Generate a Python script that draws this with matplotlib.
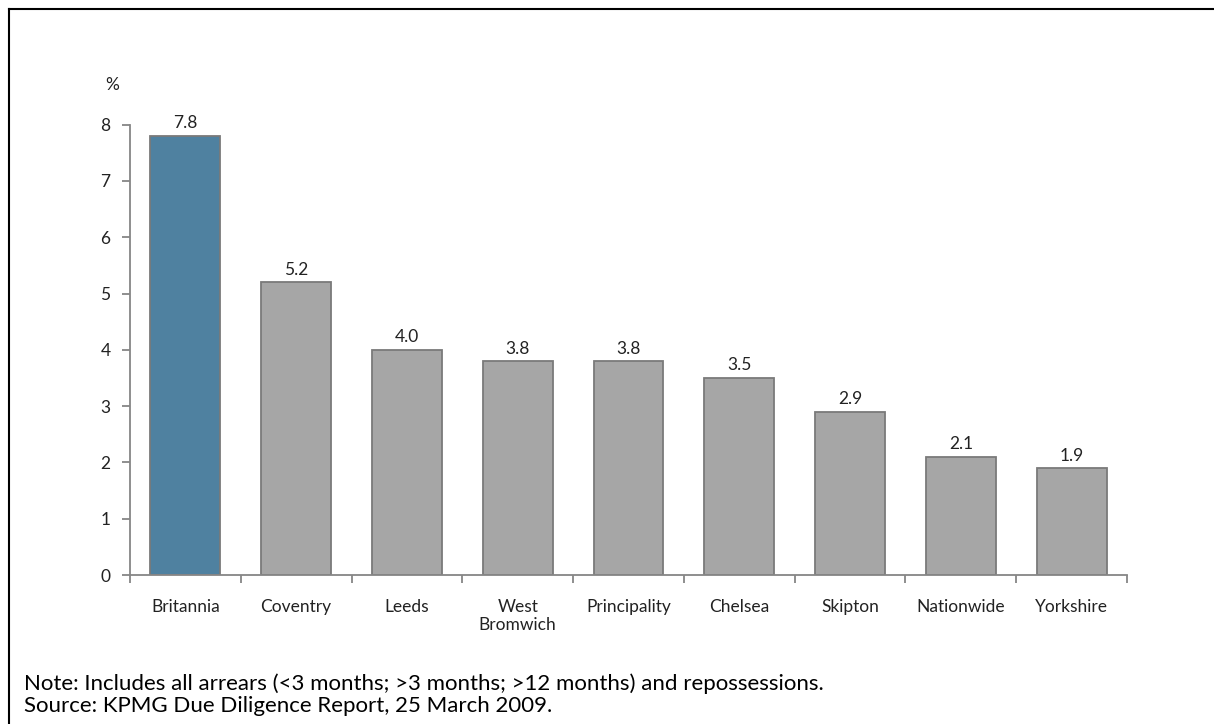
import matplotlib
matplotlib.use('Agg')
import matplotlib.pyplot as plt
from matplotlib.lines import Line2D
import numpy as np

plt.rcParams['font.family'] = ['Lato', 'DejaVu Sans']

# data
societies = ['Britannia', 'Coventry', 'Leeds', 'West\nBromwich', 'Principality',
             'Chelsea', 'Skipton', 'Nationwide', 'Yorkshire']
arrears_pct = [7.8, 5.2, 4.0, 3.8, 3.8, 3.5, 2.9, 2.1, 1.9]
value_labels = ['7.8', '5.2', '4.0', '3.8', '3.8', '3.5', '2.9', '2.1', '1.9']
y_ticks = [0, 1, 2, 3, 4, 5, 6, 7, 8]

note_text = 'Note: Includes all arrears (<3 months; >3 months; >12 months) and repossessions.'
source_text = 'Source: KPMG Due Diligence Report, 25 March 2009.'

axis_grey = '#868686'
bar_grey = '#A6A6A6'
bar_blue = '#4F81A0'
edge_grey = '#7A7A7A'
label_size = 12.5

fig = plt.figure(figsize=(12.14, 7.24), dpi=100)
ax = fig.add_axes([130 / 1214, 1 - 575 / 724, 997 / 1214, (575 - 124.7) / 724])

x = np.arange(len(societies))
colors = [bar_blue] + [bar_grey] * (len(societies) - 1)
ax.bar(x, arrears_pct, width=0.63, color=colors, edgecolor=edge_grey, linewidth=1.3, zorder=2)

for xi, v, lab in zip(x, arrears_pct, value_labels):
    ax.text(xi, v + 0.08, lab, ha='center', va='bottom', fontsize=label_size, color='#222222')

ax.set_xlim(-0.5, len(societies) - 0.5)
ax.set_ylim(0, 8)
ax.set_yticks(y_ticks)
ax.set_yticklabels([str(t) for t in y_ticks], fontsize=label_size, color='#222222')

# category labels between boundary ticks
ax.set_xticks(np.arange(-0.5, len(societies), 1.0))
ax.set_xticklabels([])
ax.set_xticks(x, minor=True)
ax.set_xticklabels(societies, minor=True, fontsize=label_size, color='#222222', linespacing=1.2)
ax.tick_params(axis='x', which='minor', length=0, pad=17)
ax.tick_params(axis='x', which='major', length=6, width=1.3, color=axis_grey, direction='out')
ax.tick_params(axis='y', length=6, width=1.3, color=axis_grey, direction='out', pad=8)

for side in ['top', 'right']:
    ax.spines[side].set_visible(False)
for side in ['left', 'bottom']:
    ax.spines[side].set_color(axis_grey)
    ax.spines[side].set_linewidth(1.3)

fig.text(112 / 1214, 1 - 85 / 724, '%', ha='center', va='center', fontsize=label_size, color='#222222')

# frame lines around the chart panel
fig.add_artist(Line2D([9 / 1214, 1.0], [1 - 9 / 724, 1 - 9 / 724], color='black', linewidth=1.5))
fig.add_artist(Line2D([9 / 1214, 9 / 1214], [0.0, 1 - 9 / 724], color='black', linewidth=1.5))

fig.text(24 / 1214, 1 - 690 / 724, note_text, ha='left', va='baseline', fontsize=16, color='black')
fig.text(24 / 1214, 1 - 712 / 724, source_text, ha='left', va='baseline', fontsize=16, color='black')

fig.savefig('out.png', dpi=100, facecolor='white')
plt.close()
